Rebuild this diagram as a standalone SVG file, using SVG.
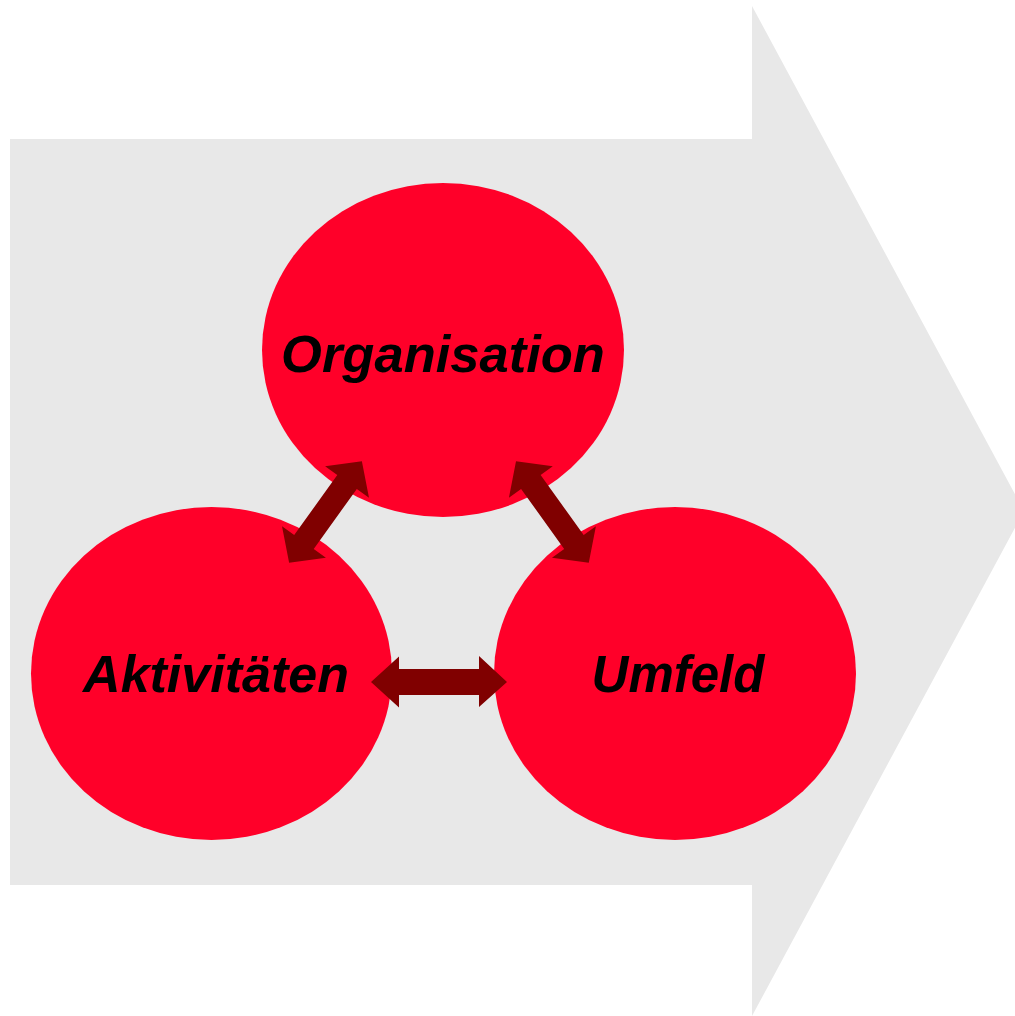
<svg xmlns="http://www.w3.org/2000/svg" width="1015" height="1016" viewBox="0 0 1015 1016">
<style>
.node{fill:#FF0029}
.lbl{font-family:"Liberation Sans",Arial,sans-serif;font-weight:bold;font-style:italic;font-size:52px;fill:#000;text-anchor:middle}
.conn{fill:#800000}
</style>
<rect width="1015" height="1016" fill="#fff"/>
<g id="background-arrow">
<polygon points="10,139 752,139 752,6 1024,511 752,1016 752,885 10,885" fill="#E8E8E8"/>
</g>
<g id="node-organisation">
<ellipse class="node" cx="443" cy="350" rx="181" ry="167"/>
<text class="lbl" x="443" y="372" style="font-size:52.5px">Organisation</text>
</g>
<g id="node-aktivitaeten">
<ellipse class="node" cx="211.5" cy="673.5" rx="180.5" ry="166.5"/>
<text class="lbl" x="216" y="692">Aktivitäten</text>
</g>
<g id="node-umfeld">
<ellipse class="node" cx="675" cy="673.5" rx="181" ry="166.5"/>
<text class="lbl" x="678" y="692" style="font-size:51px">Umfeld</text>
</g>
<defs>
<polygon id="dbl" points="-62.5,0 -37,-27 -37,-12 37,-12 37,-27 62.5,0 37,27 37,12 -37,12 -37,27"/>
</defs>
<g id="connectors">
<use href="#dbl" class="conn" transform="translate(325.5,512) rotate(-54.4)"/>
<use href="#dbl" class="conn" transform="translate(552.4,512) rotate(54.4)"/>
<polygon class="conn" points="371,682 399,656.5 399,669 479,669 479,656 507,682 479,707 479,695 399,695 399,707.5"/>
</g>
</svg>
